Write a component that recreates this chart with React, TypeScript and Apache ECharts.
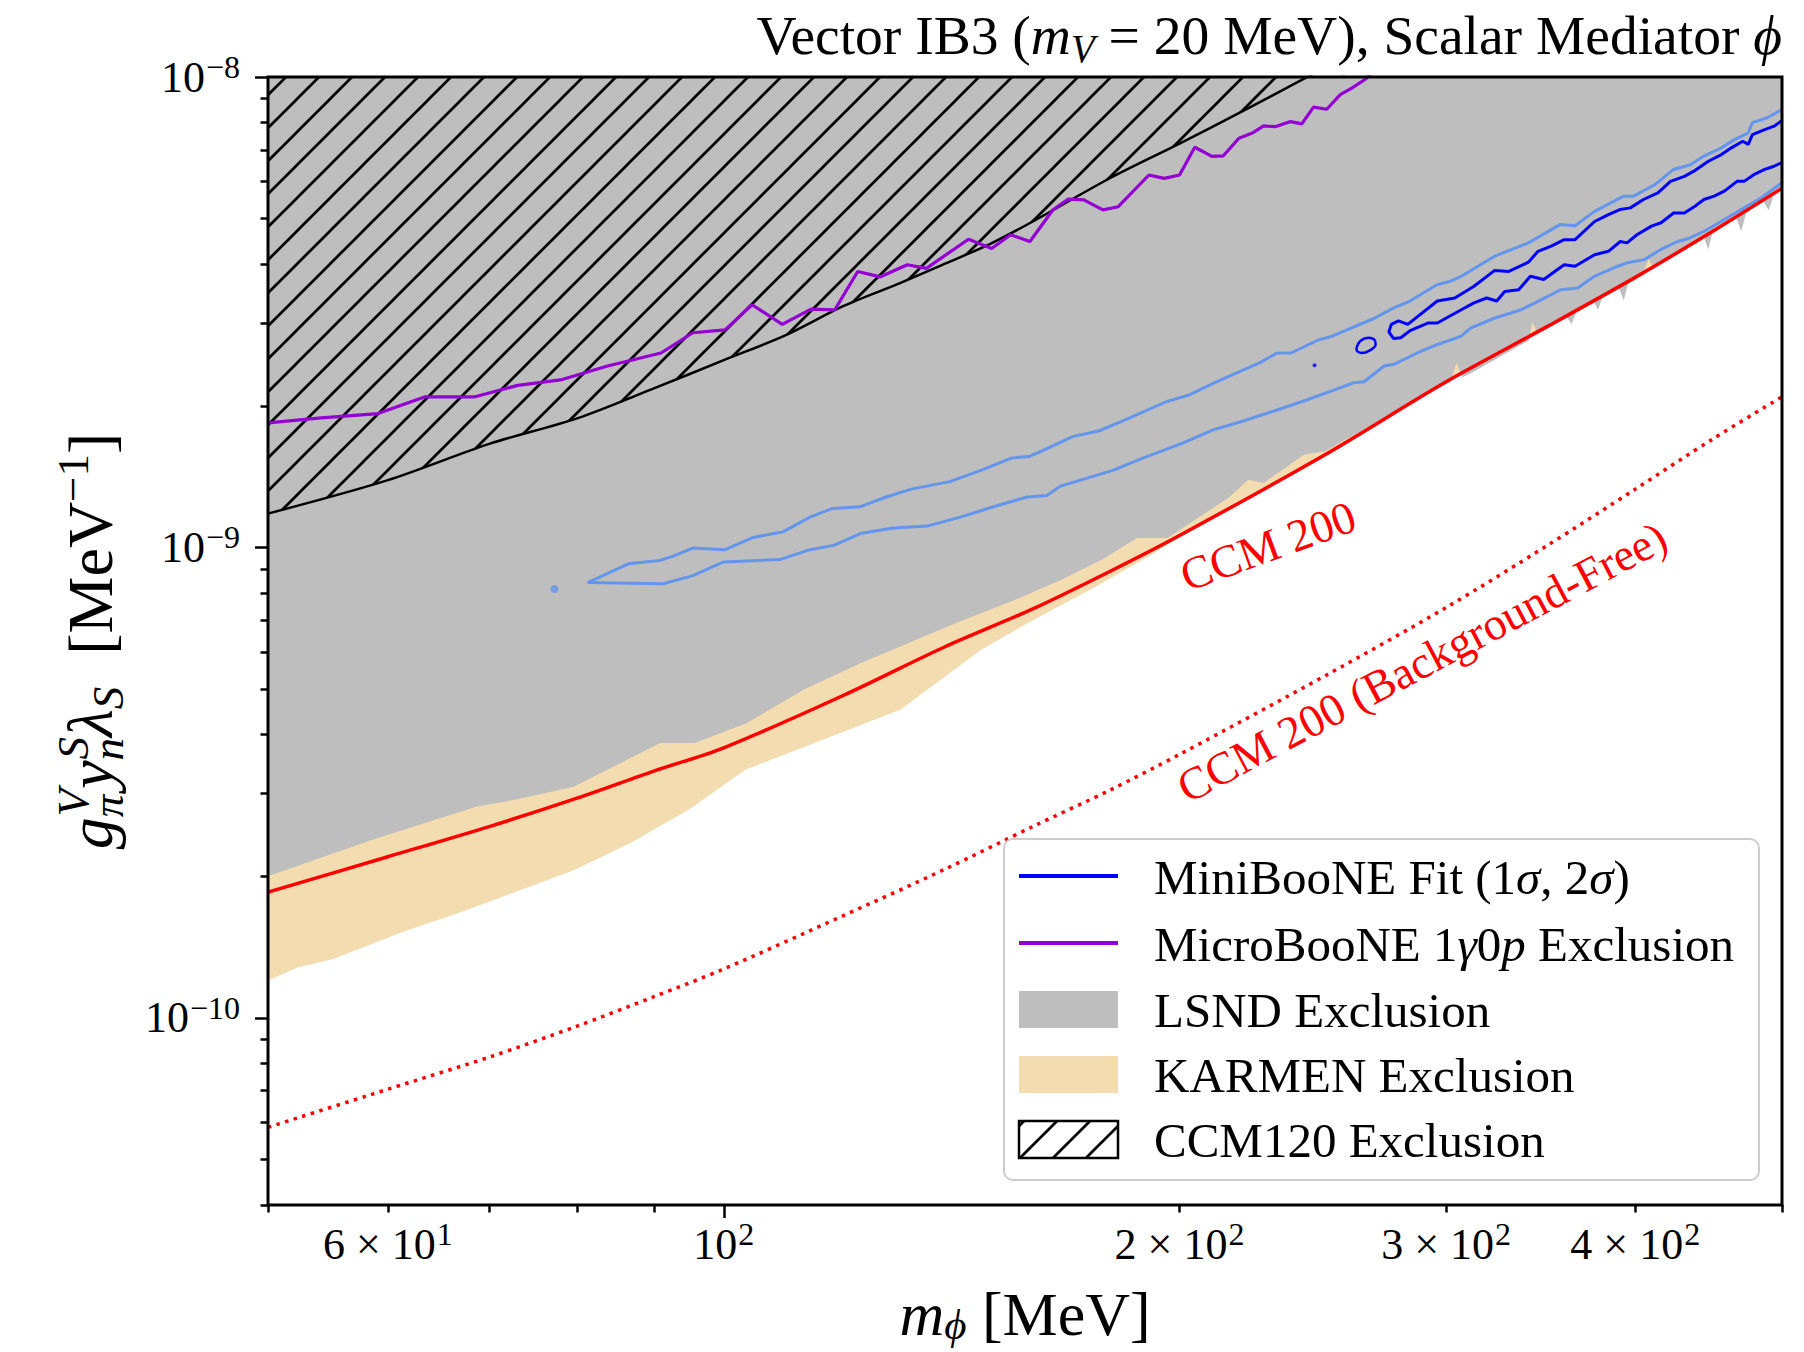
import React, { useEffect, useRef } from "react";
import * as echarts from "echarts";

// ---------------- axis ranges & ticks ----------------
const X_MIN = 50;
const X_MAX = 500;
const Y_MIN = 4e-11;
const Y_MAX = 1e-8;

const xMajorTicks = [100];
const xMinorTicks = [50, 60, 70, 80, 90, 200, 300, 400, 500];
const xLabelValues = [60, 100, 200, 300, 400];
const xLabelMantissa = ["6", "", "2", "3", "4"];
const xLabelExponent = ["1", "2", "2", "2", "2"];

const yMajorTicks = [1e-8, 1e-9, 1e-10];
const yLabelExponent = ["\u22128", "\u22129", "\u221210"];
const yMinorTicks = [
  9e-9, 8e-9, 7e-9, 6e-9, 5e-9, 4e-9, 3e-9, 2e-9,
  9e-10, 8e-10, 7e-10, 6e-10, 5e-10, 4e-10, 3e-10, 2e-10,
  9e-11, 8e-11, 7e-11, 6e-11, 5e-11, 4e-11,
];

// ---------------- data: [m_phi (MeV), coupling (MeV^-1)] ----------------
const ccm200 = [
  [50, 1.85e-10], [60, 2.2e-10], [70, 2.55e-10], [80, 2.93e-10], [90, 3.35e-10],
  [100, 3.75e-10], [120, 4.85e-10], [140, 6.15e-10], [160, 7.4e-10], [180, 8.9e-10],
  [200, 1.06e-9], [250, 1.58e-9], [300, 2.25e-9], [350, 2.95e-9], [400, 3.75e-9],
  [450, 4.7e-9], [500, 5.8e-9],
];

const ccm200BackgroundFree = [
  [50, 5.85e-11], [60, 7.05e-11], [70, 8.25e-11], [80, 9.6e-11], [90, 1.11e-10],
  [100, 1.27e-10], [120, 1.65e-10], [140, 2.07e-10], [160, 2.55e-10], [180, 3.05e-10],
  [200, 3.63e-10], [250, 5.35e-10], [300, 7.45e-10], [350, 1.01e-9], [400, 1.33e-9],
  [450, 1.7e-9], [500, 2.09e-9],
];

const ccm120Boundary = [
  [50, 1.18e-9], [60, 1.39e-9], [70, 1.66e-9], [80, 1.88e-9], [90, 2.18e-9],
  [100, 2.5e-9], [110, 2.83e-9], [120, 3.26e-9], [130, 3.62e-9], [140, 4.01e-9],
  [150, 4.42e-9], [160, 4.93e-9], [180, 6.1e-9], [200, 7.22e-9], [220, 8.45e-9],
  [240, 9.8e-9], [260, 1.12e-8],
];

const microbooneExclusion = [
  [50, 1.84e-9], [54.2, 1.885e-9], [59.1, 1.925e-9], [63.5, 2.09e-9], [68.5, 2.09e-9],
  [73.1, 2.21e-9], [78, 2.27e-9], [83.8, 2.43e-9], [90.9, 2.59e-9], [95.4, 2.86e-9],
  [100.2, 2.9e-9], [104.4, 3.28e-9], [109.3, 2.98e-9], [114.2, 3.21e-9], [118.4, 3.2e-9],
  [122.6, 3.86e-9], [126.9, 3.76e-9], [132.2, 3.99e-9], [136.1, 3.92e-9], [145.1, 4.52e-9],
  [150.3, 4.32e-9], [154.7, 4.62e-9], [159.3, 4.47e-9], [165, 5.22e-9], [168.9, 5.5e-9],
  [172.9, 5.48e-9], [178, 5.22e-9], [182.2, 5.3e-9], [190.9, 6.19e-9], [195.4, 6.09e-9],
  [200, 6.19e-9], [204.7, 7.09e-9], [210.1, 6.78e-9], [213.8, 6.8e-9], [218.9, 7.41e-9],
  [223.4, 7.6e-9], [227.3, 7.87e-9], [231.3, 7.84e-9], [236.8, 8.04e-9], [240.9, 7.95e-9],
  [245.2, 8.63e-9], [250.2, 8.54e-9], [255.4, 9.17e-9], [259.9, 9.47e-9], [265.3, 9.89e-9],
  [270, 1.04e-8],
];

const lsndLowerEdge = [
  [50, 2.0e-10], [58.6, 2.39e-10], [68.6, 2.81e-10], [72.9, 2.91e-10], [79.6, 3.1e-10],
  [90.8, 3.84e-10], [95.7, 3.84e-10], [103.5, 4.23e-10], [112.9, 4.98e-10], [123.2, 5.68e-10],
  [130.8, 6.16e-10], [143, 6.95e-10], [155.8, 7.74e-10], [167.1, 8.54e-10], [177.7, 9.41e-10],
  [187.5, 1.047e-9], [196.4, 1.047e-9], [215.4, 1.274e-9], [222.1, 1.393e-9], [227.3, 1.371e-9],
  [241.8, 1.575e-9], [249.4, 1.6e-9], [269.4, 1.84e-9], [295.5, 2.165e-9], [302, 2.25e-9],
  [304.8, 2.47e-9], [307.5, 2.3e-9], [311.9, 2.35e-9], [340, 2.75e-9], [342.1, 3.02e-9],
  [344.8, 2.84e-9], [360, 3.11e-9], [363, 2.98e-9], [366, 3.19e-9], [375, 3.36e-9],
  [378, 3.2e-9], [381, 3.45e-9], [390, 3.58e-9], [393, 3.35e-9], [396, 3.67e-9],
  [405, 3.85e-9], [408.3, 4.1e-9], [411, 3.95e-9], [425, 4.2e-9], [430.9, 4.3e-9],
  [444, 4.55e-9], [447, 4.3e-9], [450, 4.7e-9], [466, 5.05e-9], [470, 4.7e-9],
  [474, 5.2e-9], [486, 5.45e-9], [490, 5.2e-9], [494, 5.65e-9], [500, 5.8e-9],
];

const karmenLowerEdge = [
  [50, 1.2e-10], [52.3, 1.28e-10], [55.1, 1.33e-10], [61.3, 1.52e-10], [66.8, 1.67e-10],
  [70.5, 1.78e-10], [79.6, 2.06e-10], [86.9, 2.36e-10], [94.8, 2.77e-10], [103.4, 3.37e-10],
  [115, 3.85e-10], [130.8, 4.52e-10], [147.9, 6.06e-10], [160, 7.0e-10], [174.6, 8.13e-10],
  [190, 9.5e-10], [200, 1.05e-9], [250, 1.565e-9], [300, 2.23e-9], [350, 2.92e-9],
  [400, 3.71e-9], [450, 4.65e-9], [500, 5.74e-9],
];

// MiniBooNE 2 sigma contour: upper edge (right -> left), then lower edge (left -> right)
const miniboone2SigmaUpper = [
  [500, 8.53e-9], [489, 8.19e-9], [478, 8.0e-9], [475, 7.61e-9], [470, 7.48e-9],
  [465, 7.36e-9], [456, 7.07e-9], [444, 6.79e-9], [435, 6.51e-9], [424, 6.36e-9],
  [412, 5.9e-9], [399, 5.58e-9], [393, 5.58e-9], [376, 5.18e-9], [365, 4.83e-9],
  [357, 4.86e-9], [340, 4.44e-9], [323, 4.16e-9], [307, 3.77e-9], [302, 3.68e-9],
  [296, 3.62e-9], [284, 3.34e-9], [277, 3.23e-9], [269, 3.07e-9], [258, 2.9e-9],
  [252, 2.81e-9], [247, 2.76e-9], [237, 2.59e-9], [232, 2.59e-9], [226, 2.47e-9],
  [211, 2.24e-9], [203, 2.11e-9], [196, 2.04e-9], [183, 1.85e-9], [177, 1.77e-9],
  [170, 1.72e-9], [162, 1.6e-9], [159, 1.56e-9], [155, 1.55e-9], [148, 1.46e-9],
  [141, 1.38e-9], [133, 1.33e-9], [128, 1.28e-9], [123, 1.22e-9], [118, 1.21e-9],
  [114, 1.16e-9], [109.5, 1.08e-9], [104.6, 1.05e-9], [100.2, 9.89e-10], [95.4, 9.97e-10],
  [92.5, 9.57e-10], [90.7, 9.38e-10], [86.5, 9.23e-10], [81.3, 8.42e-10],
];
const miniboone2SigmaLower = [
  [91.2, 8.37e-10], [95.4, 8.71e-10], [99.9, 9.31e-10], [108.9, 9.42e-10], [114, 9.89e-10],
  [118.2, 1.01e-9], [123.1, 1.07e-9], [129.4, 1.1e-9], [136.2, 1.11e-9], [143.3, 1.16e-9],
  [150.7, 1.22e-9], [158.6, 1.28e-9], [163.5, 1.29e-9], [166.9, 1.35e-9], [180.9, 1.46e-9],
  [188.4, 1.54e-9], [201.3, 1.67e-9], [210.7, 1.78e-9], [219.5, 1.85e-9], [230.9, 1.95e-9],
  [242.9, 2.06e-9], [252.9, 2.16e-9], [260.8, 2.24e-9], [264.8, 2.25e-9], [273, 2.43e-9],
  [277.1, 2.45e-9], [287.1, 2.59e-9], [296.1, 2.7e-9], [306.8, 2.81e-9], [311.5, 2.93e-9],
  [322.8, 3.07e-9], [336.2, 3.2e-9], [346.5, 3.36e-9], [357.1, 3.53e-9], [366.4, 3.56e-9],
  [375.9, 3.77e-9], [389.4, 3.96e-9], [395.4, 4.03e-9], [405.5, 4.09e-9], [415.9, 4.3e-9],
  [426.6, 4.47e-9], [433.1, 4.53e-9], [444.3, 4.7e-9], [458, 4.98e-9], [472.1, 5.27e-9],
  [484.3, 5.53e-9], [500, 5.96e-9],
];

// MiniBooNE 1 sigma contour: upper edge (right -> left), tip, lower edge (left -> right)
const miniboone1SigmaUpper = [
  [500, 8.08e-9], [494, 7.86e-9], [487, 7.73e-9], [478, 7.54e-9], [475, 7.19e-9],
  [471, 7.3e-9], [463, 7.07e-9], [456, 6.84e-9], [447, 6.62e-9], [437, 6.3e-9],
  [431, 6.15e-9], [422, 6.0e-9], [414, 5.67e-9], [405, 5.49e-9], [397, 5.27e-9],
  [391, 5.23e-9], [384, 5.1e-9], [376, 4.93e-9], [365, 4.51e-9], [359, 4.51e-9],
  [352, 4.37e-9], [345, 4.26e-9], [340, 4.04e-9], [330, 3.86e-9], [323, 3.88e-9],
  [313, 3.59e-9], [304, 3.39e-9], [296, 3.34e-9], [283, 2.98e-9],
];
const miniboone1SigmaTip = [
  [279, 3.03e-9], [276, 2.98e-9], [275, 2.87e-9], [277, 2.78e-9], [280, 2.79e-9],
];
const miniboone1SigmaLower = [
  [284, 2.89e-9], [292, 3.0e-9], [296, 3.0e-9], [307, 3.2e-9], [313, 3.31e-9],
  [319, 3.39e-9], [324, 3.34e-9], [328, 3.5e-9], [335, 3.53e-9], [341, 3.77e-9],
  [348, 3.71e-9], [359, 3.99e-9], [365, 3.96e-9], [376, 4.19e-9], [384, 4.26e-9],
  [391, 4.47e-9], [395, 4.44e-9], [401, 4.62e-9], [410, 4.82e-9], [416, 4.9e-9],
  [424, 5.14e-9], [431, 5.14e-9], [438, 5.31e-9], [444, 5.49e-9], [451, 5.58e-9],
  [458, 5.72e-9], [467, 6.0e-9], [472, 6.0e-9], [479, 6.2e-9], [487, 6.36e-9],
  [494, 6.46e-9], [500, 6.58e-9],
];
const miniboone1SigmaIsland = [
  [261.8, 2.66e-9], [263.4, 2.75e-9], [266.6, 2.79e-9], [269.1, 2.76e-9], [269.5, 2.7e-9],
  [267.0, 2.62e-9], [263.8, 2.59e-9], [261.8, 2.63e-9], [261.8, 2.66e-9],
];
const miniboone2SigmaDot = [[77.3, 8.16e-10]];
const miniboone1SigmaDot = [[245.6, 2.44e-9]];

// ---------------- styling ----------------
const SERIF = '"Liberation Serif", "DejaVu Serif", "Times New Roman", serif';
const GREY = "#BEBEBE";
const BEIGE = "#F3DCB0";
const LIGHT_BLUE = "#6495ED";
const BLUE = "#0000FF";
const PURPLE = "#9400D3";
const RED = "#FF0000";

const GRID = { left: 268, top: 77, width: 1514, height: 1128 };
const HATCH = 33;

const L = Math.log10;
const tr = (p: number[]) => [L(p[0]), L(p[1])];
const near = (a: number, b: number) => Math.abs(a - b) < 1e-6;

function makeHatch(size: number, lw: number) {
  const c = document.createElement("canvas");
  c.width = size;
  c.height = size;
  const ctx = c.getContext("2d")!;
  ctx.strokeStyle = "#000";
  ctx.lineWidth = lw;
  for (const k of [-1, 0, 1]) {
    ctx.beginPath();
    ctx.moveTo(k * size - 2, size + 2);
    ctx.lineTo(k * size + size + 2, -2);
    ctx.stroke();
  }
  return c;
}

const rt = (size: number, extra: any = {}) => ({
  fontFamily: SERIF,
  fontSize: size,
  fill: "#000",
  align: "left",
  ...extra,
});

export default function App() {
  const ref = useRef<HTMLDivElement>(null);

  useEffect(() => {
    const el = ref.current!;
    const chart = echarts.init(el, null, { renderer: "svg" });
    const hatchCanvas = makeHatch(HATCH, 2.7);
    const hatchPattern: any = {
      image: hatchCanvas,
      repeat: "repeat",
      imageWidth: HATCH,
      imageHeight: HATCH,
    };

    const right = GRID.left + GRID.width;

    const tickStyle = { color: "#000", width: 2.5 };
    const axisBase = {
      type: "value",
      splitLine: { show: false },
      axisLine: { show: false, onZero: false },
    };
    const tickRich = {
      b: { fontFamily: SERIF, fontSize: 44, lineHeight: 52, color: "#000" },
      s: { fontFamily: SERIF, fontSize: 32, lineHeight: 32, color: "#000", verticalAlign: "top", padding: [0, 0, 0, 1] },
    };

    const xAxes = [
      {
        ...axisBase,
        min: L(X_MIN),
        max: L(X_MAX),
        position: "bottom",
        axisTick: { show: true, length: 13, lineStyle: tickStyle, customValues: xMajorTicks.map(L) },
        axisLabel: {
          show: true,
          margin: 13,
          customValues: xLabelValues.map(L),
          formatter: (v: number) => {
            const i = xLabelValues.findIndex((x) => near(L(x), v));
            if (i < 0) return "";
            const m = xLabelMantissa[i];
            return (m ? `{b|${m} \u00D7 10}` : "{b|10}") + `{s|${xLabelExponent[i]}}`;
          },
          rich: tickRich,
        },
      },
      {
        ...axisBase,
        min: L(X_MIN),
        max: L(X_MAX),
        position: "bottom",
        axisLabel: { show: false },
        axisTick: { show: true, length: 7.5, lineStyle: tickStyle, customValues: xMinorTicks.map(L) },
      },
    ];

    const yAxes = [
      {
        ...axisBase,
        min: L(Y_MIN),
        max: L(Y_MAX),
        position: "left",
        axisTick: { show: true, length: 13, lineStyle: tickStyle, customValues: yMajorTicks.map(L) },
        axisLabel: {
          show: true,
          margin: 28,
          customValues: yMajorTicks.map(L),
          formatter: (v: number) => {
            const i = yMajorTicks.findIndex((y) => near(L(y), v));
            if (i < 0) return "";
            return `{b|10}{s|${yLabelExponent[i]}}`;
          },
          rich: tickRich,
        },
      },
      {
        ...axisBase,
        min: L(Y_MIN),
        max: L(Y_MAX),
        position: "left",
        axisLabel: { show: false },
        axisTick: { show: true, length: 7.5, lineStyle: tickStyle, customValues: yMinorTicks.map(L) },
      },
    ];

    const lineBase = {
      type: "line",
      xAxisIndex: 0,
      yAxisIndex: 0,
      symbol: "none",
      silent: true,
      clip: true,
    };

    const series: any[] = [
      {
        ...lineBase,
        name: "KARMEN Exclusion",
        data: karmenLowerEdge.map(tr),
        lineStyle: { width: 0, opacity: 0 },
        areaStyle: { color: BEIGE, opacity: 1, origin: "end" },
        z: 1,
      },
      {
        ...lineBase,
        name: "LSND Exclusion",
        data: lsndLowerEdge.map(tr),
        lineStyle: { width: 0, opacity: 0 },
        areaStyle: { color: GREY, opacity: 1, origin: "end" },
        z: 2,
      },
      {
        ...lineBase,
        name: "CCM120 Exclusion",
        data: ccm120Boundary.map(tr),
        smooth: 0.3,
        lineStyle: { color: "#000", width: 2.5 },
        areaStyle: { color: hatchPattern, opacity: 1, origin: "end" },
        z: 3,
      },
      {
        ...lineBase,
        name: "MiniBooNE 2sigma",
        data: miniboone2SigmaUpper.concat(miniboone2SigmaLower).map(tr),
        lineStyle: { color: LIGHT_BLUE, width: 3 },
        z: 4,
      },
      {
        type: "scatter",
        silent: true,
        data: miniboone2SigmaDot.map(tr),
        symbol: "circle",
        symbolSize: 8,
        itemStyle: { color: LIGHT_BLUE },
        z: 4,
      },
      {
        ...lineBase,
        name: "MiniBooNE 1sigma",
        data: miniboone1SigmaUpper.concat(miniboone1SigmaTip, miniboone1SigmaLower).map(tr),
        lineStyle: { color: BLUE, width: 3 },
        z: 5,
      },
      {
        ...lineBase,
        name: "MiniBooNE 1sigma island",
        data: miniboone1SigmaIsland.map(tr),
        smooth: 0.4,
        lineStyle: { color: BLUE, width: 2.5 },
        z: 5,
      },
      {
        type: "scatter",
        silent: true,
        data: miniboone1SigmaDot.map(tr),
        symbol: "circle",
        symbolSize: 4,
        itemStyle: { color: BLUE },
        z: 5,
      },
      {
        ...lineBase,
        name: "MicroBooNE",
        data: microbooneExclusion.map(tr),
        lineStyle: { color: PURPLE, width: 3.2 },
        z: 6,
      },
      {
        ...lineBase,
        name: "CCM 200",
        data: ccm200.map(tr),
        smooth: 0.3,
        lineStyle: { color: RED, width: 3.5 },
        z: 7,
      },
      {
        ...lineBase,
        name: "CCM 200 (Background-Free)",
        data: ccm200BackgroundFree.map(tr),
        smooth: 0.3,
        lineStyle: { color: RED, width: 3.5, type: [3.5, 5.5] },
        z: 7,
      },
    ];

    // legend layout
    const LEG = { x: 1004, y: 839, w: 755, h: 341 };
    const rows = [877, 944, 1010, 1075, 1140];
    const hx0 = 1019;
    const hx1 = 1118;
    const tx = 1154;
    const legendText = (y: number, text: string) => ({
      type: "text",
      x: tx,
      y,
      z: 101,
      silent: true,
      style: {
        text,
        align: "left",
        verticalAlign: "middle",
        rich: {
          r: rt(49, { lineHeight: 56 }),
          i: rt(49, { lineHeight: 56, fontStyle: "italic" }),
        },
      },
    });

    const graphic: any[] = [
      // plot frame
      {
        type: "rect",
        z: 100,
        silent: true,
        shape: { x: GRID.left, y: GRID.top, width: GRID.width, height: GRID.height },
        style: { fill: "none", stroke: "#000", lineWidth: 3 },
      },
      // title
      {
        type: "text",
        x: right,
        y: 35,
        z: 101,
        silent: true,
        style: {
          text: "{r|Vector IB3 (}{i|m}{sub|V}{r| = 20 MeV), Scalar Mediator }{i|\u03D5}",
          align: "right",
          verticalAlign: "middle",
          rich: {
            r: rt(55.5, { lineHeight: 66 }),
            i: rt(55.5, { lineHeight: 66, fontStyle: "italic" }),
            sub: rt(39, { lineHeight: 39, fontStyle: "italic", verticalAlign: "bottom" }),
          },
        },
      },
      // x axis title
      {
        type: "text",
        x: GRID.left + GRID.width / 2,
        y: 1314,
        z: 101,
        silent: true,
        style: {
          text: "{i|m}{sub|\u03D5}{r| [MeV]}",
          align: "center",
          verticalAlign: "middle",
          rich: {
            r: rt(62, { lineHeight: 64 }),
            i: rt(62, { lineHeight: 64, fontStyle: "italic" }),
            sub: rt(43, { lineHeight: 43, fontStyle: "italic", verticalAlign: "bottom" }),
          },
        },
      },
      // y axis title
      {
        type: "text",
        x: 90,
        y: GRID.top + GRID.height / 2,
        rotation: Math.PI / 2,
        z: 101,
        silent: true,
        style: {
          text: "{i|g}{st|\u03C0}{sp|V}{i|y}{st|n}{sp|S}{i|\u03BB}{sb|S}{r|  [MeV}{sr|\u22121}{r|]}",
          align: "center",
          verticalAlign: "middle",
          rich: {
            r: rt(64, { lineHeight: 80 }),
            i: rt(64, { lineHeight: 80, fontStyle: "italic" }),
            st: rt(45, { lineHeight: 45, fontStyle: "italic", verticalAlign: "bottom", width: 1 }),
            sp: rt(45, { lineHeight: 45, fontStyle: "italic", verticalAlign: "top" }),
            sb: rt(45, { lineHeight: 45, fontStyle: "italic", verticalAlign: "bottom" }),
            sr: rt(45, { lineHeight: 45, verticalAlign: "top" }),
          },
        },
      },
      // red curve labels
      {
        type: "text",
        x: 1268,
        y: 546,
        rotation: (20 * Math.PI) / 180,
        z: 99,
        silent: true,
        style: {
          text: "CCM 200",
          fontFamily: SERIF,
          fontSize: 46,
          fill: RED,
          align: "center",
          verticalAlign: "middle",
        },
      },
      {
        type: "text",
        x: 1422,
        y: 662,
        rotation: (28 * Math.PI) / 180,
        z: 99,
        silent: true,
        style: {
          text: "CCM 200 (Background-Free)",
          fontFamily: SERIF,
          fontSize: 46,
          fill: RED,
          align: "center",
          verticalAlign: "middle",
        },
      },
      // legend box
      {
        type: "rect",
        z: 100,
        silent: true,
        shape: { x: LEG.x, y: LEG.y, width: LEG.w, height: LEG.h, r: 9 },
        style: { fill: "rgba(255,255,255,0.8)", stroke: "#CCCCCC", lineWidth: 2 },
      },
      {
        type: "line",
        z: 101,
        silent: true,
        shape: { x1: hx0, y1: rows[0] - 1, x2: hx1, y2: rows[0] - 1 },
        style: { stroke: BLUE, lineWidth: 4 },
      },
      {
        type: "line",
        z: 101,
        silent: true,
        shape: { x1: hx0, y1: rows[1] - 1, x2: hx1, y2: rows[1] - 1 },
        style: { stroke: PURPLE, lineWidth: 4 },
      },
      {
        type: "rect",
        z: 101,
        silent: true,
        shape: { x: hx0, y: rows[2] - 19, width: hx1 - hx0, height: 37 },
        style: { fill: GREY },
      },
      {
        type: "rect",
        z: 101,
        silent: true,
        shape: { x: hx0, y: rows[3] - 19, width: hx1 - hx0, height: 37 },
        style: { fill: BEIGE },
      },
      {
        type: "rect",
        z: 101,
        silent: true,
        shape: { x: hx0, y: rows[4] - 19, width: hx1 - hx0, height: 37 },
        style: { fill: hatchPattern, stroke: "#000", lineWidth: 2.5 },
      },
      legendText(rows[0], "{r|MiniBooNE Fit (1}{i|\u03C3}{r|, 2}{i|\u03C3}{r|)}"),
      legendText(rows[1], "{r|MicroBooNE 1}{i|\u03B3}{r|0}{i|p}{r| Exclusion}"),
      legendText(rows[2], "{r|LSND Exclusion}"),
      legendText(rows[3], "{r|KARMEN Exclusion}"),
      legendText(rows[4], "{r|CCM120 Exclusion}"),
    ];

    chart.setOption({
      animation: false,
      backgroundColor: "#fff",
      grid: { left: GRID.left, top: GRID.top, width: GRID.width, height: GRID.height, containLabel: false },
      xAxis: xAxes,
      yAxis: yAxes,
      legend: { show: false },
      tooltip: { show: false },
      series,
      graphic,
    });

    return () => chart.dispose();
  }, []);

  return (
    <div
      ref={ref}
      style={{ position: "absolute", left: 0, top: 0, width: 1804, height: 1352, background: "#fff" }}
    />
  );
}
